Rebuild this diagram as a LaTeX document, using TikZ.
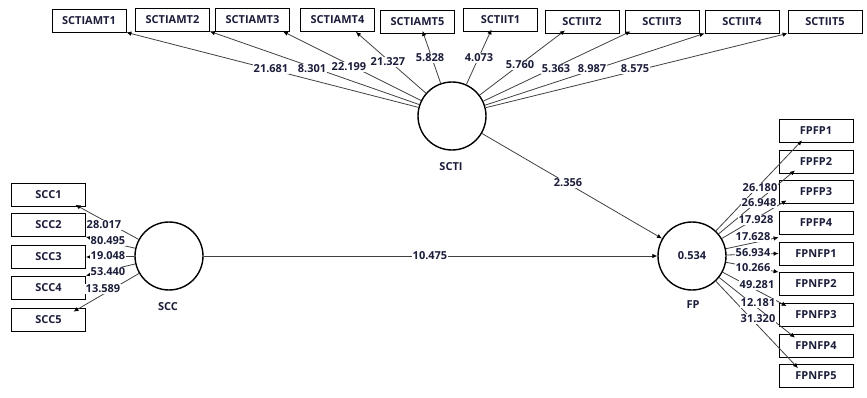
\documentclass[tikz,border=0pt]{standalone}
\usepackage{fontspec}
\setmainfont{Open Sans}
\usetikzlibrary{arrows.meta}
\definecolor{ink}{HTML}{1B1D3A}
\definecolor{wire}{HTML}{404040}
\tikzset{
  every node/.style={font=\fontsize{11}{13}\selectfont\bfseries, text=ink},
  ind/.style={draw=black, line width=0.8pt, minimum width=74pt, minimum height=23pt, inner sep=0pt},
  lv/.style={circle, draw=black, line width=1.4pt, minimum size=68pt, inner sep=0pt},
  wt/.style={fill=white, inner sep=1pt},
  arr/.style={draw=wire, line width=0.8pt, -{Latex[length=5pt,width=4.5pt,color=black]}},
}
\begin{document}
\begin{tikzpicture}[x=1pt, y=-1pt]
\useasboundingbox (0,0) rectangle (867,398);

% latent variables
\node[lv] (scti) at (452,116) {};
\node[lv] (scc) at (169,256) {};
\node[lv] (fp) at (692,256) {0.534};
\node (sctil) at (451,167) {SCTI};
\node (sccl) at (168,307) {SCC};
\node (fpl) at (693,305) {FP};

% SCTI indicators
\node[ind] (a1) at (89,20.5) {SCTIAMT1};
\node[ind] (a2) at (172.5,19.5) {SCTIAMT2};
\node[ind] (a3) at (252.5,19.5) {SCTIAMT3};
\node[ind] (a4) at (337.5,20) {SCTIAMT4};
\node[ind] (a5) at (417.5,22) {SCTIAMT5};
\node[ind] (b1) at (500.5,19.5) {SCTIIT1};
\node[ind] (b2) at (582,21.5) {SCTIIT2};
\node[ind] (b3) at (662,21.5) {SCTIIT3};
\node[ind] (b4) at (742,21.5) {SCTIIT4};
\node[ind] (b5) at (825,21.5) {SCTIIT5};

% SCC indicators
\node[ind] (s1) at (48.5,195) {SCC1};
\node[ind] (s2) at (48.5,225) {SCC2};
\node[ind] (s3) at (48.5,257) {SCC3};
\node[ind] (s4) at (48.5,287.5) {SCC4};
\node[ind] (s5) at (48.5,319.5) {SCC5};

% FP indicators
\node[ind] (f1) at (816,130.5) {FPFP1};
\node[ind] (f2) at (816,161.5) {FPFP2};
\node[ind] (f3) at (816,191.5) {FPFP3};
\node[ind] (f4) at (816,222.5) {FPFP4};
\node[ind] (n1) at (816,253.5) {FPNFP1};
\node[ind] (n2) at (816,284) {FPNFP2};
\node[ind] (n3) at (816,315) {FPNFP3};
\node[ind] (n4) at (816,345.5) {FPNFP4};
\node[ind] (n5) at (816,376) {FPNFP5};

% outer loadings of SCTI
\draw[arr] (scti) -- (a1.south east);
\draw[arr] (scti) -- (a2.south east);
\draw[arr] (scti) -- ([xshift=-7pt]a3.south east);
\draw[arr] (scti) -- ([xshift=-19pt]a4.south east);
\draw[arr] (scti) -- ([xshift=5pt,yshift=3pt]a5.south);
\draw[arr] (scti) -- ([xshift=-9pt,yshift=2pt]b1.south);
\draw[arr] (scti) -- ([xshift=-17pt,yshift=3pt]b2.south);
\draw[arr] (scti) -- ([xshift=6pt,yshift=2pt]b3.south west);
\draw[arr] (scti) -- (b4.south west);
\draw[arr] (scti) -- (b5.south west);

% outer loadings of SCC
\draw[arr] (scc) -- ([xshift=27pt,yshift=2pt]s1.south);
\draw[arr] (scc) -- (s2.south east);
\draw[arr] (scc) -- (s3.east);
\draw[arr] (scc) -- (s4.north east);
\draw[arr] (scc) -- ([xshift=25pt,yshift=-4pt]s5.north);

% outer loadings of FP
\draw[arr] (fp) -- ([xshift=-14pt,yshift=2pt]f1.south);
\draw[arr] (fp) -- ([xshift=-21pt,yshift=3pt]f2.south);
\draw[arr] (fp) -- ([xshift=8pt,yshift=3pt]f3.south west);
\draw[arr] (fp) -- ([yshift=-3pt]f4.south west);
\draw[arr] (fp) -- (n1.west);
\draw[arr] (fp) -- (n2.north west);
\draw[arr] (fp) -- ([xshift=8pt,yshift=-3pt]n3.north west);
\draw[arr] (fp) -- ([xshift=-21pt,yshift=-4pt]n4.north);
\draw[arr] (fp) -- ([xshift=-18pt,yshift=-4pt]n5.north);

% structural paths
\draw[arr] (scti) -- (fp);
\draw[arr] (scc) -- (fp);

% path coefficients / t values
\node[wt] (t1) at (271,69) {21.681};
\node[wt] (t2) at (312,69) {8.301};
\node[wt] (t3) at (349,67) {22.199};
\node[wt] (t4) at (388,62) {21.327};
\node[wt] (t5) at (430,58) {5.828};
\node[wt] (t6) at (479,58) {4.073};
\node[wt] (t7) at (520,65) {5.760};
\node[wt] (t8) at (556,69) {5.363};
\node[wt] (t9) at (592,69) {8.987};
\node[wt] (t10) at (635,69) {8.575};

\node[wt] (u1) at (104,225) {28.017};
\node[wt] (u2) at (108,241) {80.495};
\node[wt] (u3) at (108,256) {19.048};
\node[wt] (u4) at (108,272) {53.440};
\node[wt] (u5) at (103,289) {13.589};

\node[wt] (v1) at (760,188) {26.180};
\node[wt] (v2) at (759,203) {26.948};
\node[wt] (v3) at (756,220) {17.928};
\node[wt] (v4) at (753,237) {17.628};
\node[wt] (v5) at (753,253) {56.934};
\node[wt] (v6) at (753,268) {10.266};
\node[wt] (v7) at (757,285) {49.281};
\node[wt] (v8) at (758,303) {12.181};
\node[wt] (v9) at (758,319) {31.320};

\node[wt] (p1) at (568,183) {2.356};
\node[wt] (p2) at (430,256) {10.475};
\end{tikzpicture}
\end{document}
